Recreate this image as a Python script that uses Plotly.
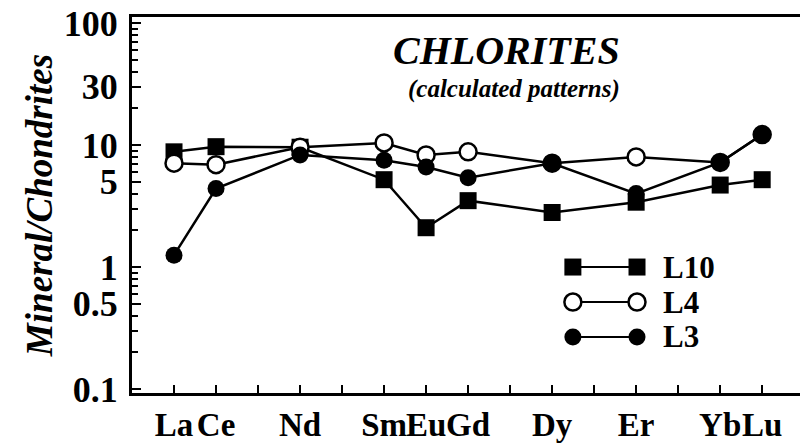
import plotly.graph_objects as go

# REE abundances normalised to chondrite (calculated chlorite patterns)
elements = ["La", "Ce", "Nd", "Sm", "Eu", "Gd", "Dy", "Er", "Yb", "Lu"]
atomic_numbers = [57, 58, 60, 62, 63, 64, 66, 68, 70, 71]

l10 = [8.8, 9.7, 9.6, 5.2, 2.1, 3.5, 2.8, 3.4, 4.7, 5.2]
l4 = [7.1, 6.9, 9.6, 10.4, 8.3, 8.8, 7.1, 8.0, 7.2, 12.2]
l3 = [1.25, 4.4, 8.3, 7.5, 6.6, 5.4, 7.1, 4.0, 7.2, 12.2]

y_tick_vals = [0.1, 0.5, 1, 5, 10, 30, 100]
y_tick_text = ["0.1", "0.5", "1", "5", "10", "30", "100"]
y_minor_vals = [m * d for d in (0.1, 1, 10) for m in range(2, 10)]
x_minor_vals = list(range(57, 72))

series = [
    ("L10", l10, dict(symbol="square", size=17, color="black")),
    ("L4", l4, dict(symbol="circle", size=17, color="white",
                    line=dict(color="black", width=2.5))),
    ("L3", l3, dict(symbol="circle", size=17, color="black")),
]

SERIF = "Liberation Serif, Times New Roman, serif"

fig = go.Figure()
for name, vals, marker in series:
    fig.add_trace(go.Scatter(
        x=atomic_numbers, y=vals, mode="lines+markers", name=name,
        line=dict(color="black", width=2.5), marker=marker,
        showlegend=False, cliponaxis=False,
    ))

# hand-drawn legend keys on an overlay axis spanning the plot area
legend_y = [0.335, 0.242, 0.149]
for (name, vals, marker), ky in zip(series, legend_y):
    fig.add_trace(go.Scatter(
        x=[0.660, 0.756], y=[ky, ky], mode="lines+markers",
        line=dict(color="black", width=2), marker=marker,
        xaxis="x2", yaxis="y2", showlegend=False, hoverinfo="skip",
    ))
    fig.add_annotation(
        x=0.792, y=ky, xref="x2", yref="y2", text=name, showarrow=False,
        xanchor="left", yanchor="middle",
        font=dict(family=SERIF, size=31, color="black", weight="bold"),
    )

# in-plot heading
fig.add_annotation(
    x=0.561, y=0.911, xref="paper", yref="paper", text="<b><i>CHLORITES</i></b>",
    showarrow=False, xanchor="center", yanchor="middle",
    font=dict(family=SERIF, size=40, color="black"),
)
fig.add_annotation(
    x=0.572, y=0.808, xref="paper", yref="paper",
    text="<b><i>(calculated patterns)</i></b>",
    showarrow=False, xanchor="center", yanchor="middle",
    font=dict(family=SERIF, size=25, color="black"),
)

fig.update_layout(
    width=800, height=446,
    margin=dict(l=132, r=0, t=17, b=53),
    paper_bgcolor="white", plot_bgcolor="white",
    xaxis=dict(
        range=[56.0, 71.9], showgrid=False, zeroline=False, automargin=False,
        showline=True, linecolor="black", linewidth=3, mirror=True,
        tickmode="array", tickvals=atomic_numbers, ticktext=elements,
        tickangle=0,
        ticks="inside", ticklen=8, tickwidth=2, tickcolor="black",
        minor=dict(tickmode="array", tickvals=x_minor_vals, ticks="inside",
                   ticklen=8, tickwidth=2, tickcolor="black"),
        tickfont=dict(family=SERIF, size=33, color="black", weight="bold"),
    ),
    yaxis=dict(
        type="log", range=[-1.033, 2.05], showgrid=False, zeroline=False,
        automargin=False,
        showline=True, linecolor="black", linewidth=3,
        tickmode="array", tickvals=y_tick_vals, ticktext=y_tick_text,
        ticklabelstandoff=4,
        ticks="inside", ticklen=9, tickwidth=2, tickcolor="black",
        minor=dict(tickmode="array", tickvals=y_minor_vals, ticks="inside",
                   ticklen=6, tickwidth=2, tickcolor="black"),
        tickfont=dict(family=SERIF, size=36, color="black", weight="bold"),
        title=dict(text="<b><i>Mineral/Chondrites</i></b>", standoff=0,
                   font=dict(family=SERIF, size=37, color="black")),
    ),
    xaxis2=dict(range=[0, 1], overlaying="x", visible=False, fixedrange=True),
    yaxis2=dict(range=[0, 1], overlaying="y", visible=False, fixedrange=True),
)

fig.write_html("out.html")
